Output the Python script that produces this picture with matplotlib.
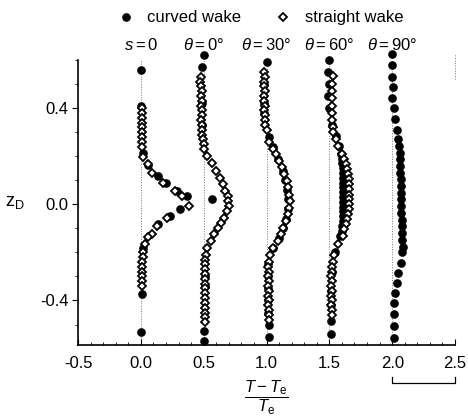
import matplotlib
matplotlib.use("Agg")
import matplotlib.pyplot as plt
import matplotlib.transforms as mtransforms
from matplotlib.lines import Line2D
from matplotlib.ticker import MultipleLocator

plt.rcParams['font.family'] = ['Liberation Sans', 'DejaVu Sans']
plt.rcParams['mathtext.fontset'] = 'custom'
plt.rcParams['mathtext.rm'] = 'Liberation Sans'
plt.rcParams['mathtext.it'] = 'Liberation Sans:italic'

# profile labels and the horizontal offset of each profile
profile_labels = [r'$s=0$', r'$\theta=0$°', r'$\theta=30$°', r'$\theta=60$°', r'$\theta=90$°']
offsets = [0.0, 0.5, 1.0, 1.5, 2.0]

# curved wake (filled), z_D and (T-Te)/Te per profile
z_curved_s0 = [0.56, 0.41, 0.215, 0.165, 0.118, 0.09, 0.055, 0.035, -0.02, -0.049, -0.083, -0.18, -0.375, -0.53]
v_curved_s0 = [0.0, 0.0, 0.02, 0.06, 0.14, 0.20, 0.29, 0.37, 0.31, 0.23, 0.14, 0.02, 0.01, 0.0]

z_curved_t0 = [0.62, 0.57, 0.42, 0.33, 0.02, -0.30, -0.34, -0.525, -0.57]
v_curved_t0 = [0.0, -0.01, -0.01, -0.01, 0.07, 0.01, 0.01, 0.0, 0.0]

z_curved_t30 = [0.59, 0.50, 0.42, 0.38, 0.278, 0.24, 0.19, 0.14, 0.10, 0.06, 0.02, -0.02, -0.06,
                -0.10, -0.14, -0.18, -0.25, -0.30, -0.35, -0.40, -0.45, -0.50, -0.55]
v_curved_t30 = [0.0, -0.02, -0.02, -0.02, 0.02, 0.05, 0.09, 0.13, 0.15, 0.165, 0.17, 0.17, 0.155,
                0.13, 0.10, 0.055, 0.015, 0.015, 0.015, 0.015, 0.015, 0.02, 0.02]

z_curved_t60 = [0.60, 0.55, 0.50, 0.45, 0.40, 0.33, 0.285, 0.243, 0.21, 0.19, 0.17, 0.15, 0.13, 0.11,
                0.09, 0.07, 0.05, 0.03, 0.01, -0.01, -0.03, -0.05, -0.07, -0.09, -0.11, -0.13,
                -0.20, -0.28, -0.36, -0.42, -0.486, -0.54]
v_curved_t60 = [0.0, -0.01, 0.0, -0.01, 0.0, 0.02, 0.05, 0.08, 0.09, 0.10, 0.10, 0.105, 0.105, 0.11,
                0.11, 0.11, 0.11, 0.11, 0.11, 0.11, 0.11, 0.105, 0.105, 0.10, 0.10, 0.085,
                0.045, 0.02, 0.015, 0.015, 0.01, 0.01]

z_curved_t90 = [0.625, 0.58, 0.53, 0.486, 0.44, 0.40, 0.354, 0.31, 0.27, 0.243, 0.215, 0.187, 0.16,
                0.132, 0.104, 0.076, 0.048, 0.02, -0.008, -0.036, -0.064, -0.092, -0.12, -0.148,
                -0.176, -0.2, -0.243, -0.285, -0.326, -0.368, -0.41, -0.458, -0.507, -0.555]
v_curved_t90 = [0.0, 0.0, 0.0, 0.005, 0.0, 0.015, 0.025, 0.04, 0.05, 0.055, 0.06, 0.062, 0.065,
                0.066, 0.068, 0.07, 0.07, 0.072, 0.072, 0.074, 0.075, 0.076, 0.078, 0.08,
                0.082, 0.08, 0.07, 0.05, 0.04, 0.02, 0.015, 0.015, 0.015, 0.015]

# straight wake (open)
z_straight_s0 = [0.40, 0.38, 0.36, 0.34, 0.32, 0.30, 0.28, 0.26, 0.24, 0.195, 0.167, 0.13, 0.09, 0.055,
                 0.035, -0.007, -0.055, -0.09, -0.125, -0.136, -0.167, -0.20, -0.22, -0.24, -0.26,
                 -0.28, -0.30, -0.32, -0.34]
v_straight_s0 = [0.01, 0.01, 0.01, 0.01, 0.01, 0.01, 0.01, 0.01, 0.01, 0.02, 0.06, 0.09, 0.18, 0.27,
                 0.33, 0.38, 0.21, 0.13, 0.09, 0.06, 0.035, 0.02, 0.015, 0.01, 0.01,
                 0.01, 0.01, 0.01, 0.01]

z_straight_t0 = [0.53, 0.51, 0.49, 0.47, 0.45, 0.43, 0.41, 0.39, 0.37, 0.35, 0.33, 0.31, 0.29, 0.27,
                 0.25, 0.23, 0.20, 0.17, 0.14, 0.11, 0.083, 0.055, 0.035, 0.014, -0.007, -0.028,
                 -0.055, -0.076, -0.097, -0.125, -0.153, -0.18, -0.21, -0.23, -0.25, -0.27, -0.29,
                 -0.31, -0.33, -0.35, -0.37, -0.39, -0.41, -0.43, -0.45, -0.47, -0.49]
v_straight_t0 = [-0.02, -0.03, -0.02, -0.01, -0.02, -0.01, -0.02, -0.01, -0.01, -0.02, -0.01, -0.01,
                 -0.01, -0.005, 0.0, 0.0, 0.03, 0.07, 0.10, 0.13, 0.15, 0.17, 0.19, 0.195, 0.20,
                 0.185, 0.165, 0.14, 0.11, 0.085, 0.06, 0.03, 0.02, 0.01, 0.01, 0.01, 0.01, 0.01,
                 0.01, 0.01, 0.01, 0.01, 0.01, 0.01, 0.01, 0.01, 0.01]

z_straight_t30 = [0.55, 0.53, 0.51, 0.49, 0.47, 0.45, 0.43, 0.41, 0.39, 0.37, 0.35, 0.33, 0.31, 0.26,
                  0.23, 0.21, 0.18, 0.153, 0.125, 0.097, 0.07, 0.04, 0.014, -0.014, -0.04, -0.07,
                  -0.097, -0.125, -0.153, -0.18, -0.21, -0.24, -0.26, -0.28, -0.30, -0.32, -0.34,
                  -0.36, -0.38, -0.40, -0.42, -0.44, -0.46, -0.48]
v_straight_t30 = [-0.02, -0.01, -0.02, -0.02, -0.01, -0.02, -0.02, -0.01, -0.02, -0.01, -0.01, -0.01,
                  0.0, 0.02, 0.05, 0.075, 0.10, 0.12, 0.14, 0.16, 0.17, 0.18, 0.185, 0.18, 0.17,
                  0.155, 0.135, 0.115, 0.09, 0.055, 0.03, 0.02, 0.015, 0.02, 0.015, 0.02, 0.015,
                  0.02, 0.015, 0.02, 0.015, 0.02, 0.02, 0.02]

z_straight_t60 = [0.535, 0.50, 0.47, 0.44, 0.41, 0.38, 0.35, 0.32, 0.30, 0.27, 0.243, 0.21, 0.188,
                  0.167, 0.146, 0.125, 0.104, 0.083, 0.062, 0.04, 0.02, 0.0, -0.02, -0.04, -0.062,
                  -0.083, -0.104, -0.13, -0.167, -0.21, -0.24, -0.26, -0.28, -0.30, -0.32, -0.34,
                  -0.36, -0.38, -0.40, -0.42, -0.44, -0.46]
v_straight_t60 = [0.03, 0.02, 0.02, 0.02, 0.02, 0.02, 0.02, 0.025, 0.03, 0.05, 0.07, 0.10, 0.12,
                  0.13, 0.14, 0.15, 0.155, 0.155, 0.16, 0.16, 0.16, 0.16, 0.155, 0.15, 0.14,
                  0.13, 0.12, 0.105, 0.07, 0.04, 0.03, 0.02, 0.02, 0.015, 0.02, 0.015, 0.02,
                  0.015, 0.02, 0.015, 0.02, 0.02]

curved = [(z_curved_s0, v_curved_s0), (z_curved_t0, v_curved_t0), (z_curved_t30, v_curved_t30),
          (z_curved_t60, v_curved_t60), (z_curved_t90, v_curved_t90)]
straight = [(z_straight_s0, v_straight_s0), (z_straight_t0, v_straight_t0),
            (z_straight_t30, v_straight_t30), (z_straight_t60, v_straight_t60)]

x_ticks = [-0.5, 0.0, 0.5, 1.0, 1.5, 2.0, 2.5]
y_ticks = [-0.4, 0.0, 0.4]

fig = plt.figure(figsize=(4.68, 4.17), dpi=100)
ax = fig.add_axes([0.1667, 0.1727, 0.8056, 0.6835])

# dotted baseline of each profile
for off in offsets:
    ax.axvline(off, color='0.45', ls=':', lw=0.7, zorder=1)
ax.plot([2.5, 2.5], [0.52, 0.625], color='0.45', ls=':', lw=0.7, clip_on=False)

for off, (z, v) in zip(offsets, curved):
    ax.plot([off + val for val in v], z, 'o', ms=5.2, mfc='black', mec='black',
            clip_on=False, zorder=3)
for off, (z, v) in zip(offsets, straight):
    ax.plot([off + val for val in v], z, 'D', ms=3.8, mfc='white', mec='black', mew=1.3,
            clip_on=False, zorder=4)

ax.set_xlim(-0.5, 2.5)
ax.set_ylim(-0.585, 0.60)
ax.set_xticks(x_ticks)
ax.set_yticks(y_ticks)
ax.set_xticklabels([f'{t:.1f}' for t in x_ticks])
ax.set_yticklabels([f'{t:.1f}' for t in y_ticks])
ax.xaxis.set_minor_locator(MultipleLocator(0.1))
ax.yaxis.set_minor_locator(MultipleLocator(0.1))
ax.tick_params(axis='x', which='both', direction='in', labelsize=12, pad=8)
ax.tick_params(axis='x', which='major', length=4)
ax.tick_params(axis='x', which='minor', length=2.5)
ax.tick_params(axis='y', which='major', direction='out', length=4, labelsize=12, pad=3)
ax.tick_params(axis='y', which='minor', direction='out', length=2.5)
for side in ['top', 'right']:
    ax.spines[side].set_visible(False)
ax.spines['left'].set_linewidth(1.2)
ax.spines['bottom'].set_linewidth(1.2)

ax.set_xlabel(r'$\dfrac{T-T_\mathrm{e}}{T_\mathrm{e}}$', fontsize=12, labelpad=5)
ax.set_ylabel(r'$\mathrm{z_D}$', fontsize=13, rotation=0, labelpad=18, va='center')

# profile labels above the axes
trans = mtransforms.blended_transform_factory(ax.transData, fig.transFigure)
for off, lab in zip(offsets, profile_labels):
    ax.text(off, 0.892, lab, transform=trans, ha='center', va='center', fontsize=12)

# scale bar below the 2.0 - 2.5 interval
trans_b = mtransforms.blended_transform_factory(ax.transData, ax.transAxes)
ax.plot([2.0, 2.0, 2.5, 2.5], [-0.113, -0.135, -0.135, -0.113], color='black', lw=0.9,
        transform=trans_b, clip_on=False)

handles = [Line2D([], [], ls='none', marker='o', ms=5.2, mfc='black', mec='black'),
           Line2D([], [], ls='none', marker='D', ms=3.8, mfc='white', mec='black', mew=1.3)]
fig.legend(handles, ['curved wake', 'straight wake'], loc='center', bbox_to_anchor=(0.556, 0.957),
           ncol=2, frameon=False, fontsize=12, handlelength=1.0, handletextpad=0.8,
           columnspacing=2.0)

fig.savefig('out.png', dpi=100)
